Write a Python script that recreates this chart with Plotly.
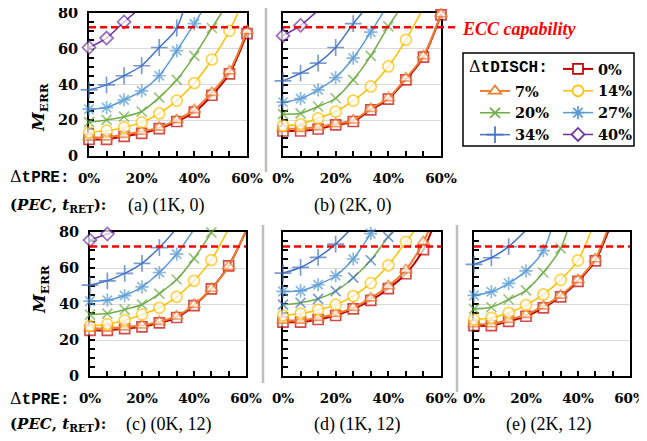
import plotly.graph_objects as go

# the page body adds an 8px margin; the figure is sized so that it fills the rest
PAGE_W, PAGE_H, BODY = 647, 441, 8
W, H = PAGE_W - BODY, PAGE_H - BODY

# ---------------- data ----------------
PRE = [0, 6.67, 13.33, 20, 26.67, 33.33, 40, 46.67, 53.33, 60]
X_TICKS = [0, 20, 40, 60]
Y_TICKS = [0, 20, 40, 60, 80]
SERIES = ["0%", "7%", "14%", "20%", "27%", "34%", "40%"]
ECC_LIMIT = 72

# (a) (1K, 0)
A_0 = [9.3, 9.3, 11.0, 12.7, 15.3, 19.3, 24.5, 34.0, 46.0, 68.5]
A_7 = [10.5, 10.5, 12.0, 13.7, 16.0, 20.2, 25.8, 35.5, 47.5, 70.0]
A_14 = [13.1, 14.2, 16.0, 18.8, 23.8, 31.0, 40.8, 54.0, 70.0, 92.0]
A_20 = [18.9, 20.2, 22.0, 24.9, 32.7, 42.6, 56.0, 71.6, 87.0]
A_27 = [26.2, 27.1, 31.4, 36.4, 44.9, 58.9, 74.0, 90.0]
A_34 = [37.0, 39.8, 44.9, 50.5, 60.7, 71.6, 105.0]
A_40 = [60.7, 66.0, 75.0, 83.5]
# (b) (2K, 0)
B_0 = [14.0, 14.0, 15.1, 17.4, 19.3, 25.8, 31.8, 42.6, 55.3, 79.0]
B_7 = [15.3, 15.3, 16.3, 18.0, 20.0, 26.5, 32.5, 43.5, 56.0, 79.5]
B_14 = [17.0, 17.8, 21.1, 24.9, 31.0, 38.9, 50.1, 65.0, 83.0]
B_20 = [23.4, 23.9, 27.7, 32.3, 42.6, 56.0, 72.5, 87.0]
B_27 = [30.1, 32.1, 37.0, 43.9, 54.8, 69.3, 85.0]
B_34 = [42.0, 46.4, 52.0, 60.7, 74.0, 86.0]
B_40 = [67.3, 73.1, 81.5]
# (c) (0K, 12)
C_0 = [25.4, 25.4, 26.3, 27.3, 29.5, 32.5, 39.1, 48.4, 61.2, 80.5]
C_7 = [26.5, 26.5, 27.2, 28.2, 30.2, 33.2, 39.6, 48.6, 60.8, 81.0]
C_14 = [27.8, 28.8, 31.0, 34.1, 37.9, 44.0, 52.9, 64.4, 82.0]
C_20 = [34.1, 34.7, 36.9, 39.7, 45.8, 53.6, 65.3, 79.8, 97.0]
C_27 = [41.6, 42.1, 44.7, 49.5, 57.5, 67.7, 81.5]
C_34 = [50.5, 52.9, 57.0, 62.6, 71.3, 82.0]
C_40 = [75.5, 78.9, 82.0]
# (d) (1K, 12)
D_0 = [29.9, 29.9, 31.4, 33.6, 37.3, 42.0, 48.5, 56.8, 70.2, 95.0]
D_7 = [30.9, 30.9, 32.4, 34.6, 38.0, 43.3, 50.0, 59.0, 74.5, 98.0]
D_14 = [33.6, 34.7, 36.7, 39.6, 44.4, 51.6, 61.5, 74.5, 87.0]
D_20 = [39.6, 40.7, 42.9, 47.2, 54.6, 64.3, 77.3, 88.0]
D_27 = [47.0, 47.3, 50.7, 55.7, 65.0, 79.1, 95.0]
D_34 = [57.2, 60.3, 65.9, 73.3, 83.0]
# (e) (2K, 12)
E_0 = [28.0, 28.0, 30.4, 33.2, 37.9, 44.0, 52.6, 64.0, 87.0]
E_7 = [28.9, 28.9, 31.3, 34.1, 38.8, 44.8, 53.4, 65.0, 89.5]
E_14 = [31.3, 32.3, 35.1, 39.4, 45.3, 53.4, 64.2, 87.0]
E_20 = [37.3, 38.2, 42.5, 47.6, 57.5, 70.9, 101.0]
E_27 = [44.8, 46.8, 51.5, 58.4, 69.6, 100.0]
E_34 = [62.0, 65.7, 71.9, 81.0]

PANEL_TITLES = ["(a) (1K, 0)", "(b) (2K, 0)", "(c) (0K, 12)", "(d) (1K, 12)", "(e) (2K, 12)"]
PANEL_DATA = [
    [A_0, A_7, A_14, A_20, A_27, A_34, A_40],
    [B_0, B_7, B_14, B_20, B_27, B_34, B_40],
    [C_0, C_7, C_14, C_20, C_27, C_34, C_40],
    [D_0, D_7, D_14, D_20, D_27, D_34, None],
    [E_0, E_7, E_14, E_20, E_27, E_34, None],
]

# ---------------- styles ----------------
COLORS = ["#C00000", "#ED7D31", "#FFC000", "#70AD47", "#5B9BD5", "#4472C4", "#7030A0"]
SYMBOLS = ["square", "triangle-up", "circle", "x-thin", "asterisk", "cross-thin", "diamond"]
FILLED = [True, True, True, False, False, False, True]
MSIZE = [10, 11, 11, 10, 11, 12, 10]
LWIDTH = [2, 2, 1.5, 1.5, 1.5, 1.5, 1.5]
# panel (d): the 20% markers are drawn blue in the original
MARKER_OVERRIDE = {(3, 3): "#4472C4"}


def px(x):
    """page pixel x -> paper fraction"""
    return (x - BODY) / W


def py(y):
    """page pixel y -> paper fraction"""
    return 1 - (y - BODY) / H


# plot-area rectangles in page pixels: (left, right, top, bottom)
BOXES = [(89, 247, 13, 156), (283, 441, 13, 156),
         (90, 246, 232, 376), (283, 441, 232, 376), (474, 630, 232, 376)]

SERIF = "DejaVu Serif"
fig = go.Figure()

for p, series_list in enumerate(PANEL_DATA):
    xa = "x" if p == 0 else f"x{p + 1}"
    ya = "y" if p == 0 else f"y{p + 1}"
    for s, vals in enumerate(series_list):
        if vals is None:
            continue
        mcol = MARKER_OVERRIDE.get((p, s), COLORS[s])
        sizes = [MSIZE[s] if v <= 80 else 0 for v in vals]
        fig.add_trace(go.Scatter(
            x=PRE[:len(vals)], y=vals, xaxis=xa, yaxis=ya,
            mode="lines+markers", name=SERIES[s], showlegend=False,
            cliponaxis=False,
            line=dict(color=COLORS[s], width=LWIDTH[s], shape="spline", smoothing=0.8),
            marker=dict(symbol=SYMBOLS[s], size=sizes,
                        color="white" if FILLED[s] else mcol,
                        line=dict(color=mcol, width=1.7)),
            hoverinfo="skip",
        ))

# legend-only entries (empty data)
LEGEND_OF = ["legend2", "legend", "legend2", "legend", "legend2", "legend", "legend2"]
for s in range(len(SERIES)):
    fig.add_trace(go.Scatter(
        x=[None], y=[None], mode="lines+markers", name=SERIES[s],
        legend=LEGEND_OF[s], showlegend=True,
        line=dict(color=COLORS[s], width=LWIDTH[s]),
        marker=dict(symbol=SYMBOLS[s], size=MSIZE[s],
                    color="white" if FILLED[s] else COLORS[s],
                    line=dict(color=COLORS[s], width=1.7)),
    ))

tickfont = dict(family=SERIF, size=13.5, color="black", weight="bold")
ytickfont = dict(family=SERIF, size=14.5, color="black", weight="bold")

layout = dict(
    width=W, height=H, margin=dict(l=0, r=0, t=0, b=0, autoexpand=False),
    paper_bgcolor="white", plot_bgcolor="white",
    shapes=[], annotations=[],
)

for p, (l, r, t, b) in enumerate(BOXES):
    xk = "xaxis" if p == 0 else f"xaxis{p + 1}"
    yk = "yaxis" if p == 0 else f"yaxis{p + 1}"
    xa = "x" if p == 0 else f"x{p + 1}"
    ya = "y" if p == 0 else f"y{p + 1}"
    layout[xk] = dict(
        domain=[px(l), px(r)], anchor=ya, range=[0, 60], automargin=False,
        tickvals=X_TICKS, ticktext=[f"{v}%" for v in X_TICKS],
        ticks="inside", ticklen=5, tickwidth=1.5, tickcolor="black",
        minor=dict(dtick=20 / 3, tick0=0, ticks="inside", ticklen=5,
                   tickwidth=1.5, tickcolor="black", showgrid=False),
        showline=True, mirror=True, linecolor="black", linewidth=2,
        showgrid=False, zeroline=False, tickfont=tickfont,
        ticklabelstandoff=9, ticklabeloverflow="allow", layer="below traces",
    )
    layout[yk] = dict(
        domain=[py(b), py(t)], anchor=xa, range=[0, 80], automargin=False,
        tickvals=Y_TICKS, ticks="inside", ticklen=5, tickwidth=1.5, tickcolor="black",
        minor=dict(dtick=5, tick0=0, ticks="inside", ticklen=5,
                   tickwidth=1.5, tickcolor="black", showgrid=False),
        showline=True, mirror=True, linecolor="black", linewidth=2,
        showgrid=True, gridcolor="#D9D9D9", gridwidth=1, zeroline=False,
        showticklabels=(p in (0, 2)), tickfont=ytickfont,
        ticklabelstandoff=6, ticklabeloverflow="allow", layer="below traces",
    )
    # ECC capability line
    x1 = px(455) if p == 1 else px(r)
    layout["shapes"].append(dict(
        type="line", xref="paper", yref=ya, x0=px(l), x1=x1, y0=ECC_LIMIT, y1=ECC_LIMIT,
        line=dict(color="#FF0000", width=2.5, dash="7px,4px"), layer="above"))

# grey separators
for (x, y0, y1) in [(266, 8, 172), (263, 225, 383), (457, 225, 392)]:
    layout["shapes"].append(dict(type="line", xref="paper", yref="paper",
                                 x0=px(x), x1=px(x), y0=py(y0), y1=py(y1),
                                 line=dict(color="#BFBFBF", width=2.5)))

# legend box
layout["shapes"].append(dict(type="rect", xref="paper", yref="paper",
                             x0=px(463), x1=px(634), y0=py(146), y1=py(53),
                             line=dict(color="black", width=1.5), fillcolor="rgba(0,0,0,0)"))

ann = layout["annotations"]
MONO = "<span style='font-family:Liberation Mono'>"
# subplot captions
for (cx, cy), title in zip([(166, 205), (352, 205), (168, 424), (357, 424), (548, 424)], PANEL_TITLES):
    ann.append(dict(x=px(cx), y=py(cy), xref="paper", yref="paper", text=title,
                    showarrow=False, xanchor="center", yanchor="middle",
                    font=dict(family="Liberation Serif", size=18, color="black")))
# row labels
for yy in (177, 399):
    ann.append(dict(x=px(8), y=py(yy), xref="paper", yref="paper",
                    text="Δ" + MONO + "<b>tPRE:</b></span>",
                    showarrow=False, xanchor="left", yanchor="middle",
                    font=dict(family=SERIF, size=16, color="black")))
for yy in (205, 424):
    ann.append(dict(x=px(8), y=py(yy), xref="paper", yref="paper",
                    text="<b>(<i>PEC</i>, <i>t</i><sub>RET</sub>):</b>",
                    showarrow=False, xanchor="left", yanchor="middle",
                    font=dict(family=SERIF, size=15, color="black")))
# y-axis titles
for yy in (108, 290):
    ann.append(dict(x=px(40), y=py(yy), xref="paper", yref="paper",
                    text="<b><i>M</i><sub>ERR</sub></b>", textangle=-90,
                    showarrow=False, xanchor="center", yanchor="middle",
                    font=dict(family=SERIF, size=17, color="black")))
# ECC capability label
ann.append(dict(x=px(460), y=py(29), xref="paper", yref="paper",
                text="<b><i>ECC capability</i></b>", showarrow=False,
                xanchor="left", yanchor="middle",
                font=dict(family="Liberation Serif", size=18, color="#FF0000")))
# legend title
ann.append(dict(x=px(467), y=py(67), xref="paper", yref="paper",
                text="Δ" + MONO + "<b>tDISCH:</b></span>", showarrow=False,
                xanchor="left", yanchor="middle",
                font=dict(family=SERIF, size=16, color="black")))

legfont = dict(family=SERIF, size=14.5, color="black", weight="bold")
layout["legend"] = dict(x=px(475), y=py(75), xanchor="left", yanchor="top",
                        orientation="v", bgcolor="rgba(0,0,0,0)", borderwidth=0,
                        font=legfont, itemwidth=30, tracegroupgap=0)
layout["legend2"] = dict(x=px(558), y=py(53), xanchor="left", yanchor="top",
                         orientation="v", bgcolor="rgba(0,0,0,0)", borderwidth=0,
                         font=legfont, itemwidth=30, tracegroupgap=0)

fig.update_layout(**layout)
fig.write_html("out.html")
